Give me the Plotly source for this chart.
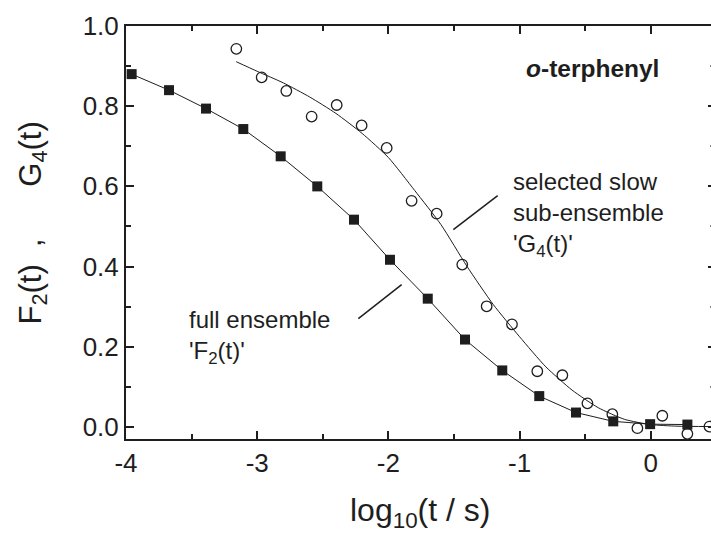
import plotly.graph_objects as go

# full ensemble F2(t): filled squares
f2_x = [-3.957, -3.672, -3.390, -3.106, -2.821, -2.542, -2.262, -1.988,
        -1.700, -1.416, -1.132, -0.850, -0.570, -0.286, -0.005, 0.279]
f2_y = [0.880, 0.840, 0.794, 0.743, 0.675, 0.600, 0.517, 0.417,
        0.320, 0.218, 0.141, 0.077, 0.036, 0.014, 0.007, 0.006]

# selected slow sub-ensemble G4(t): open circles
g4_x = [-3.159, -2.966, -2.778, -2.585, -2.394, -2.204, -2.013, -1.823, -1.632, -1.437,
        -1.251, -1.058, -0.865, -0.674, -0.483, -0.293, -0.102, 0.088, 0.279, 0.447]
g4_y = [0.943, 0.872, 0.838, 0.774, 0.803, 0.752, 0.696, 0.564, 0.532, 0.405,
        0.301, 0.256, 0.139, 0.129, 0.059, 0.032, -0.003, 0.028, -0.017, 0.001]

# fit curve through G4(t)
fit_x = [-3.16, -3.0, -2.8, -2.6, -2.4, -2.2, -2.0, -1.8, -1.6, -1.4,
         -1.2, -1.0, -0.8, -0.6, -0.4, -0.2, 0.0, 0.2, 0.46]
fit_y = [0.911, 0.887, 0.858, 0.823, 0.782, 0.732, 0.672, 0.590, 0.505, 0.400,
         0.305, 0.225, 0.150, 0.092, 0.048, 0.019, 0.006, 0.002, 0.001]

x_ticks = [-4, -3, -2, -1, 0]
y_ticks = [0.0, 0.2, 0.4, 0.6, 0.8, 1.0]

# pointer lines for the labels (data units)
ptr_g4_x = [-1.505, -1.167]
ptr_g4_y = [0.492, 0.577]
ptr_f2_x = [-2.229, -1.899]
ptr_f2_y = [0.270, 0.355]

INK = "#1e1e1e"
FONT = "Liberation Sans, Arial, Helvetica, sans-serif"

fig = go.Figure()
fig.add_trace(go.Scatter(x=fit_x, y=fit_y, mode="lines", line=dict(color=INK, width=1, shape="spline", smoothing=0.6),
                         showlegend=False, hoverinfo="skip"))
fig.add_trace(go.Scatter(x=f2_x, y=f2_y, mode="lines+markers",
                         line=dict(color=INK, width=1),
                         marker=dict(symbol="square", size=10, color=INK, line=dict(width=0)),
                         showlegend=False))
fig.add_trace(go.Scatter(x=g4_x, y=g4_y, mode="markers",
                         marker=dict(symbol="circle-open", size=10.5, color=INK, line=dict(width=1.3, color=INK)),
                         showlegend=False))
fig.add_trace(go.Scatter(x=ptr_g4_x, y=ptr_g4_y, mode="lines", line=dict(color=INK, width=1.5),
                         showlegend=False, hoverinfo="skip"))
fig.add_trace(go.Scatter(x=ptr_f2_x, y=ptr_f2_y, mode="lines", line=dict(color=INK, width=1.5),
                         showlegend=False, hoverinfo="skip"))
# invisible trace to anchor the right-hand tick axis
fig.add_trace(go.Scatter(x=[-4], y=[0], yaxis="y2", mode="markers", marker=dict(opacity=0),
                         showlegend=False, hoverinfo="skip"))

fig.update_layout(
    width=711, height=533,
    margin=dict(l=126, r=0, t=26, b=94),
    plot_bgcolor="white", paper_bgcolor="white",
    font=dict(family=FONT, color=INK, size=26),
    xaxis=dict(range=[-4, 0.459], tickvals=x_ticks, ticktext=[str(v) for v in x_ticks],
               showgrid=False, zeroline=False, showline=True, linewidth=2, linecolor=INK,
               mirror="ticks", ticks="inside", ticklen=8, tickwidth=2, tickcolor=INK,
               minor=dict(dtick=0.5, tick0=0, ticks="inside", ticklen=5, tickwidth=1.5, tickcolor=INK),
               tickfont=dict(size=26, family=FONT, color=INK)),
    yaxis=dict(range=[-0.03, 1.0], tickvals=y_ticks, ticktext=["%.1f" % v for v in y_ticks],
               showgrid=False, zeroline=False, showline=True, linewidth=2, linecolor=INK,
               mirror=False, ticks="inside", ticklen=8, tickwidth=2, tickcolor=INK,
               minor=dict(dtick=0.1, tick0=0, ticks="inside", ticklen=5, tickwidth=1.5, tickcolor=INK),
               tickfont=dict(size=26, family=FONT, color=INK)),
    yaxis2=dict(range=[-0.03, 1.0], overlaying="y", side="right", showline=False, showgrid=False,
                zeroline=False, showticklabels=False, tickvals=y_ticks,
                ticks="inside", ticklen=3, tickwidth=2, tickcolor=INK,
                minor=dict(dtick=0.1, tick0=0, ticks="inside", ticklen=1, tickwidth=1.5, tickcolor="#888")),
)

fig.add_annotation(xref="paper", yref="paper", x=(420 - 126) / 585, y=-(535 - 439) / 413,
                   text="log<sub>10</sub>(t / s)", showarrow=False, xanchor="center", yanchor="bottom",
                   font=dict(size=32, family=FONT, color=INK))
fig.add_annotation(xref="paper", yref="paper", x=-(126 - 11) / 585, y=(439 - 326) / 413,
                   text="F<sub>2</sub>(t)\u00a0\u00a0,\u00a0\u00a0\u00a0\u00a0\u00a0\u00a0G<sub>4</sub>(t)", textangle=-90,
                   showarrow=False, xanchor="left", yanchor="bottom", borderpad=0,
                   font=dict(size=31, family=FONT, color=INK))
fig.add_annotation(x=-0.959, y=0.93, xref="x", yref="y", text="<b><i>o</i>-terphenyl</b>",
                   showarrow=False, xanchor="left", yanchor="top", borderpad=0,
                   font=dict(size=24.5, family=FONT, color=INK))
fig.add_annotation(x=-1.058, y=0.648, xref="x", yref="y",
                   text="selected slow<br>sub-ensemble<br>'G<sub>4</sub>(t)'",
                   showarrow=False, xanchor="left", yanchor="top", align="left", borderpad=0,
                   font=dict(size=24, family=FONT, color=INK))
fig.add_annotation(x=-3.527, y=0.303, xref="x", yref="y",
                   text="full ensemble<br>'F<sub>2</sub>(t)'",
                   showarrow=False, xanchor="left", yanchor="top", align="left", borderpad=0,
                   font=dict(size=24, family=FONT, color=INK))

fig.write_html("out.html")
